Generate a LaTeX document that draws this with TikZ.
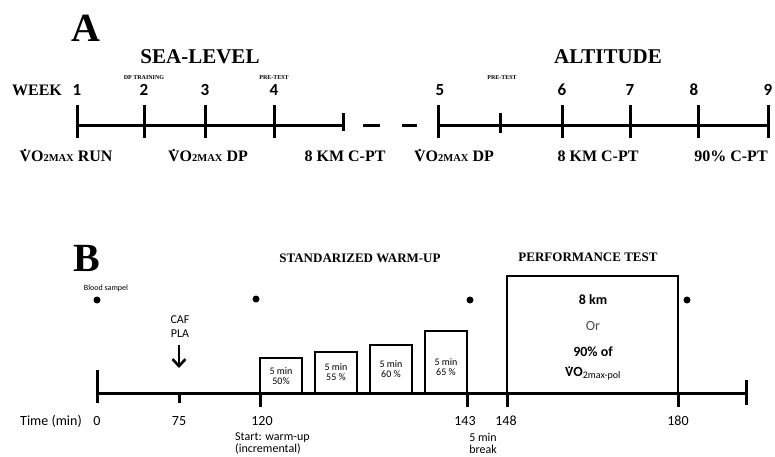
\documentclass[tikz,border=0pt]{standalone}
\usepackage{fontspec}
\setmainfont{Liberation Serif}
\newfontfamily\calib{Carlito}
\usetikzlibrary{arrows.meta}
\newcommand\Vdot{\leavevmode\ooalign{V\cr\hidewidth\raisebox{0.62em}{\scalebox{0.9}{.}}\hidewidth\cr}}
\newcommand\fs[1]{\fontsize{#1}{#1}\selectfont}
\newcommand\vomax{\Vdot O{\fs{10.5}2MAX}}
\begin{document}
\begin{tikzpicture}[x=1pt,y=-1pt,
  tl/.style={line width=3pt},
  bx/.style={line width=2.5pt},
  big/.style={font=\bfseries\fs{40}, inner sep=0pt},
  ttl/.style={font=\bfseries\fs{21}, inner sep=0pt},
  wk/.style={font=\calib\bfseries\fs{17}, inner sep=0pt},
  tiny/.style={font=\bfseries\fs{6}, inner sep=0pt},
  lab/.style={font=\bfseries\fs{16}, inner sep=0pt},
  ttlb/.style={font=\bfseries\fs{13}, inner sep=0pt},
  sm/.style={font=\calib\fs{#1}, inner sep=0pt, align=center},
  dotm/.style={fill=black, circle, inner sep=0pt, minimum size=7pt}]
\useasboundingbox (0,0) rectangle (775,456);
% ---------- A ----------
\node[big] (A) at (86,28) {A};
\node[ttl] (sea) at (200,57) {SEA-LEVEL};
\node[ttl] (alt) at (608,57) {ALTITUDE};
\node[font=\bfseries\fs{16}, inner sep=0pt] (week) at (37,90) {WEEK};
\foreach \n/\x in {1/77,2/144,3/205,4/274,5/440,6/562,7/630,8/694,9/768}
  \node[wk] (w\n) at (\x,90) {\n};
\node[tiny] (dpt) at (144,78) {DP TRAINING};
\node[tiny] (pt1) at (274,78) {PRE-TEST};
\node[tiny] (pt2) at (502,78) {PRE-TEST};
% timeline A
\coordinate (a0) at (77,125);
\coordinate (a1) at (343,125);
\draw[tl] (a0) -- (a1);
\foreach \x in {77,144,205,274} \draw[tl] (\x,105) -- (\x,138);
\draw[tl] (343,113) -- (343,131);
\coordinate (d1a) at (363,125); \coordinate (d1b) at (380,125);
\coordinate (d2a) at (402,125); \coordinate (d2b) at (417,125);
\draw[tl] (d1a) -- (d1b);
\draw[tl] (d2a) -- (d2b);
\coordinate (b0) at (438,125);
\coordinate (b1) at (770,125);
\draw[tl] (b0) -- (b1);
\foreach \x in {438,562,630,698,768} \draw[tl] (\x,105) -- (\x,138);
\draw[tl] (500,113) -- (500,133);
\node[lab] (l1) at (66,156) {\vomax\ RUN};
\node[lab] (l2) at (208,156) {\vomax\ DP};
\node[lab] (l3) at (345,156) {8 KM C-PT};
\node[lab] (l4) at (454,156) {\vomax\ DP};
\node[lab] (l5) at (598,156) {8 KM C-PT};
\node[lab] (l6) at (731,156) {90\% C-PT};
% ---------- B ----------
\node[big] (B) at (87,258) {B};
\node[ttlb] (swu) at (360,258) {STANDARIZED WARM-UP};
\node[ttlb] (perf) at (588,257) {PERFORMANCE TEST};
\node[sm=8] (blood) at (106,288) {Blood sampel};
\node[dotm] (p1) at (97,300) {};
\node[dotm] (p2) at (256,299) {};
\node[dotm] (p3) at (470,300) {};
\node[dotm] (p4) at (687,300) {};
\node[sm=12] (caf) at (180,320) {CAF};
\node[sm=12] (pla) at (180,334) {PLA};
\coordinate (arrE) at (179,368);
\draw[line width=2.6pt,-{Straight Barb[length=7pt,width=13pt,line width=2.6pt]}] (pla.south -| arrE) ++(0,7) -- (arrE);
% timeline B
\coordinate (t0) at (97,393);
\coordinate (t1) at (746,393);
\draw[tl] (t0) -- (t1);
\draw[tl] (97,370) -- (97,403);
\draw[tl] (179,393) -- (179,403);
\foreach \x in {260,467,507,678} \draw[tl] (\x,393) -- (\x,407);
\draw[tl] (746,380) -- (746,405);
% boxes
\draw[bx] (260,393) |- (302,358) -- (302,393);
\draw[bx] (315,393) |- (357,352) -- (357,393);
\draw[bx] (370,393) |- (412,345) -- (412,393);
\draw[bx] (425,393) |- (467,331) -- (467,393);
\draw[bx] (507,393) |- (678,276) -- (678,393);
\node[sm=10] (bx1) at (281,376) {5 min\\50\%};
\node[sm=10] (bx2) at (336,372) {5 min\\55 \%};
\node[sm=10] (bx3) at (391,369) {5 min\\60 \%};
\node[sm=10] (bx4) at (446,367) {5 min\\65 \%};
\node[font=\calib\bfseries\fs{14}, inner sep=0pt] (km) at (593,300) {8 km};
\node[font=\calib\fs{14}, text=black!70, inner sep=0pt] (or) at (593,326) {Or};
\node[font=\calib\bfseries\fs{14}, inner sep=0pt] (nin) at (593,352) {90\% of};
\node[font=\calib\fs{14}, inner sep=0pt] (vo) at (593,374) {\textbf{\Vdot O}$_{\hbox{\calib\fs{10}2max-pol}}$};
% time labels
\node[sm=14] (time) at (51,421) {Time (min)};
\foreach \t/\x in {0/97,75/179,120/262,143/465,148/506,180/678}
  \node[sm=14] (n\t) at (\x,421) {\t};
\node[font=\calib\fs{12}, align=left, anchor=west, inner sep=0pt] (start) at (235,443) {Start: warm-up\\(incremental)};
\node[sm=12] (brk) at (483,443) {5 min\\break};
\end{tikzpicture}
\end{document}
